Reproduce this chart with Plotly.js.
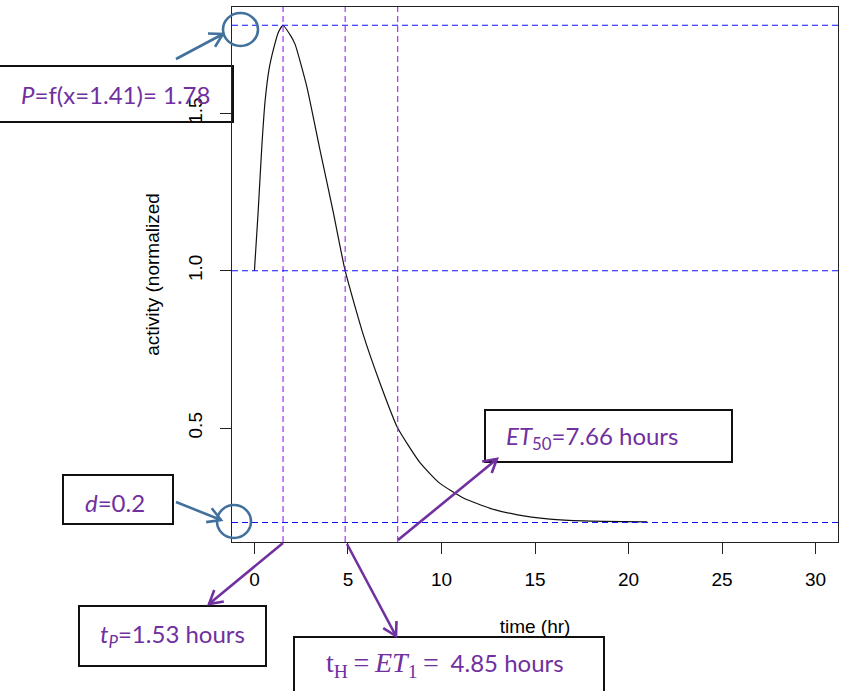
<!DOCTYPE html>
<html><head><meta charset="utf-8">
<script src="https://cdn.plot.ly/plotly-3.0.1.min.js"></script>
<style>html,body{margin:0;padding:0;background:#fff}</style>
</head><body><div id="chart" style="width:841px;height:691px"></div>
<script>
// ---- data ----
const timeHr   = [0, 0.2, 0.4, 0.57, 0.78, 1.0, 1.28, 1.53, 1.9, 2.17, 2.8, 3.5, 4.2, 4.85, 5.8, 6.7, 7.66, 8.85, 9.9, 11.2, 12.6, 14.0, 15.8, 17.6, 21.0];
const activity = [1.0, 1.19, 1.40, 1.54, 1.64, 1.70, 1.758, 1.78, 1.75, 1.72, 1.585, 1.385, 1.19, 1.0, 0.80, 0.645, 0.5, 0.39, 0.325, 0.277, 0.245, 0.225, 0.211, 0.205, 0.202];
const xTicks = [0, 5, 10, 15, 20, 25, 30];
const yTicks = [0.5, 1.0, 1.5];
const yTickText = ['0.5', '1.0', '1.5'];
const markerTimes = [1.53, 4.85, 7.66];      // tP, tH, ET50
const markerLevels = [1.78, 1.0, 0.2];       // P, baseline, d

// ---- geometry helpers (pixel -> paper) ----
const W = 841, H = 691, M = {l: 232, r: 3, t: 7, b: 149};
const PW = W - M.l - M.r, PH = H - M.t - M.b;
const px = x => (x - M.l) / PW;
const py = y => (H - M.b - y) / PH;

const PURPLE = '#7030A0', BLUE = '#41719C';
const shapes = [];
markerTimes.forEach(v => shapes.push({type: 'line', xref: 'x', yref: 'paper', x0: v, x1: v, y0: 0, y1: 1,
  line: {color: '#A020F0', width: 1.1, dash: '6px,4px'}}));
markerLevels.forEach(h => shapes.push({type: 'line', xref: 'paper', yref: 'y', x0: 0, x1: 1, y0: h, y1: h,
  line: {color: '#1010FF', width: 1.1, dash: '6px,4px'}}));

function box(L, T, R, B, layer) {
  shapes.push({type: 'rect', xref: 'paper', yref: 'paper', x0: px(L), x1: px(R), y0: py(B), y1: py(T),
    fillcolor: 'white', line: {color: '#111', width: 2}, layer: layer || 'above'});
}
function circ(L, T, R, B) {
  shapes.push({type: 'circle', xref: 'paper', yref: 'paper', x0: px(L), x1: px(R), y0: py(B), y1: py(T),
    fillcolor: 'rgba(0,0,0,0)', line: {color: BLUE, width: 2.6}});
}
box(-1, 66, 233, 122, 'below');
box(63, 475, 173, 524);
box(485, 410, 732, 462);
box(79, 606, 266, 666);
box(294, 637, 604, 700);
circ(223, 13, 258, 46);
circ(217, 505, 251, 538);

// arrows drawn as a shaft plus an open V head
function arrow(tx, ty, hx, hy, color) {
  const dx = hx - tx, dy = hy - ty, len = Math.hypot(dx, dy);
  const ux = dx / len, uy = dy / len, nx = -uy, ny = ux;
  const L = 13, Wd = 7.5;
  const a1 = [hx - L * ux + Wd * nx, hy - L * uy + Wd * ny];
  const a2 = [hx - L * ux - Wd * nx, hy - L * uy - Wd * ny];
  shapes.push({type: 'line', xref: 'paper', yref: 'paper', x0: px(tx), y0: py(ty), x1: px(hx), y1: py(hy),
    line: {color: color, width: 2.6}});
  shapes.push({type: 'path', xref: 'paper', yref: 'paper',
    path: `M${px(a1[0])},${py(a1[1])} L${px(hx)},${py(hy)} L${px(a2[0])},${py(a2[1])}`,
    line: {color: color, width: 2.6}});
}
arrow(176, 59, 223, 34, BLUE);
arrow(176, 502, 221, 520, BLUE);
arrow(283, 543, 209, 604, PURPLE);
arrow(347, 544, 396, 636, PURPLE);
arrow(398, 540, 497, 459, PURPLE);

const annotations = [];
function label(text, x, y, anchor) {
  annotations.push({xref: 'paper', yref: 'paper', x: px(x), y: py(y), text: text, showarrow: false,
    xanchor: anchor || 'center', yanchor: 'middle', font: {family: 'Lato', size: 24, color: PURPLE}});
}
label('<i>P</i>=f(x=1.41)= 1.78', 116, 95);
label('<i>d</i>=0.2', 115, 502);
label('<i>ET</i><sub>50</sub>=7.66 hours', 504, 437, 'left');
label('<i>t</i><sub><i>P</i></sub>=1.53 hours', 172, 635);
label('<span style="font-family:Liberation Serif;font-size:28px">t<sub>H</sub>\u2009=\u2009<i>ET</i><sub>1</sub>\u2009=\u2009</span> 4.85 hours', 445, 664);

const axFont = {family: 'Liberation Sans, Arial, sans-serif', size: 19, color: '#000'};
const layout = {
  width: W, height: H, margin: M,
  paper_bgcolor: '#fff', plot_bgcolor: '#fff', showlegend: false,
  xaxis: {range: [-1.2, 31.2], tickvals: xTicks, ticktext: xTicks.map(String), ticks: 'outside', ticklen: 11,
    tickwidth: 1, tickcolor: '#222', showline: true, mirror: true, linecolor: '#222', linewidth: 1,
    showgrid: false, zeroline: false, tickfont: axFont, ticklabelstandoff: 9,
    title: {text: 'time (hr)', font: axFont, standoff: 30}},
  yaxis: {range: [0.138, 1.838], tickvals: yTicks, ticktext: yTickText, tickangle: -90, ticks: 'outside', ticklen: 11,
    tickwidth: 1, tickcolor: '#222', showline: true, mirror: true, linecolor: '#222', linewidth: 1,
    showgrid: false, zeroline: false, tickfont: axFont, ticklabelstandoff: 10,
    title: {text: 'activity (normalized', font: axFont, standoff: 20}},
  shapes: shapes, annotations: annotations
};
const trace = {x: timeHr, y: activity, type: 'scatter', mode: 'lines',
  line: {color: '#111', width: 1.2, shape: 'spline', smoothing: 0.5}, hoverinfo: 'skip'};
Plotly.newPlot('chart', [trace], layout, {staticPlot: true});
</script></body></html>
